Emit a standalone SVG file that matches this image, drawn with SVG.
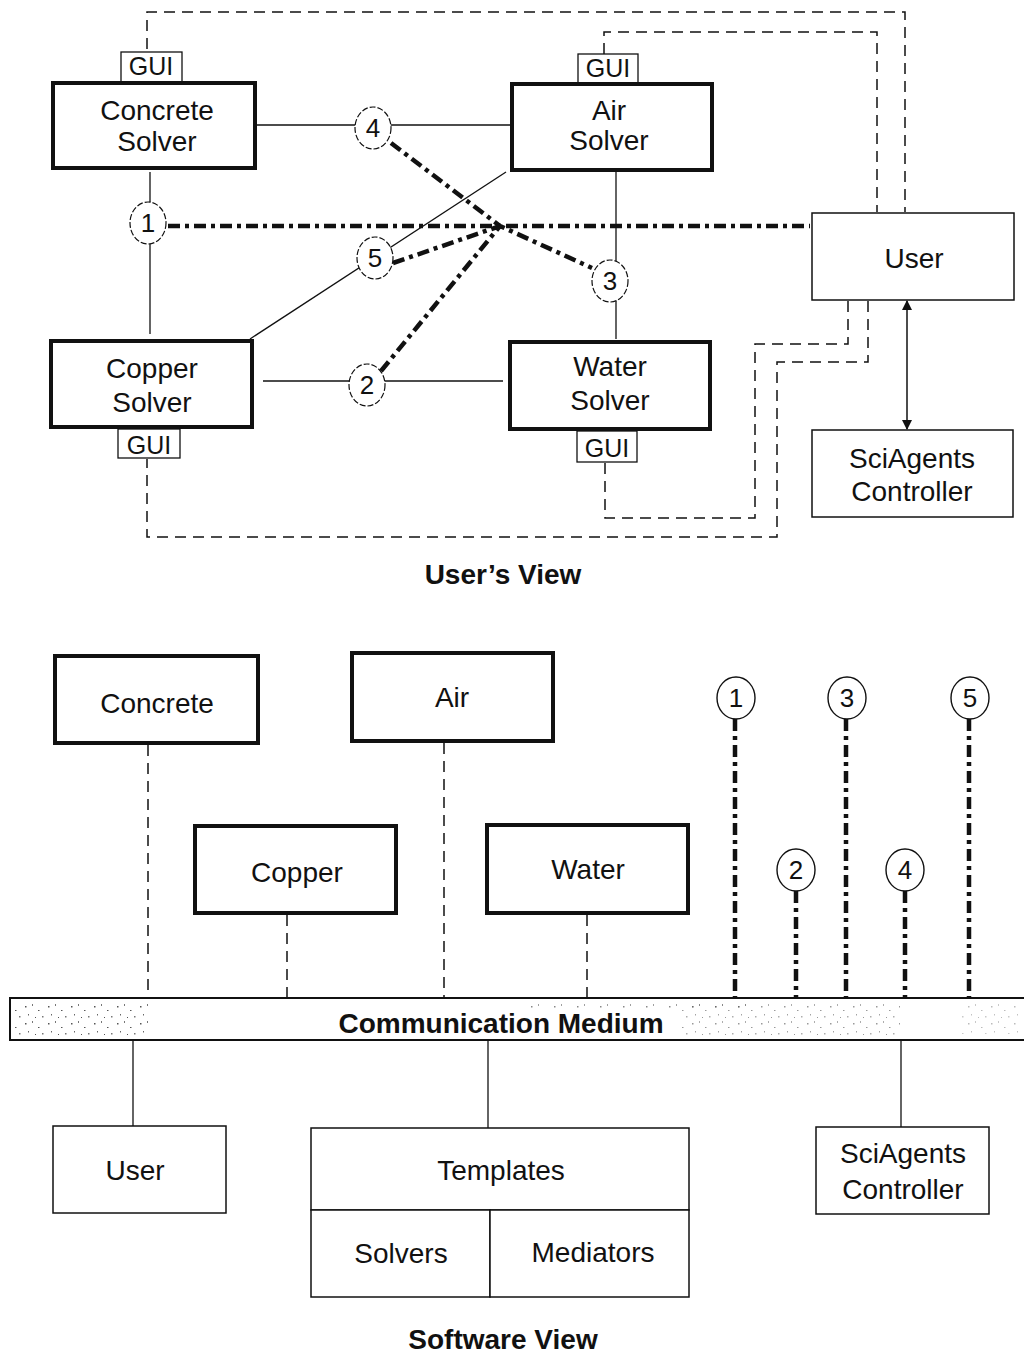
<svg xmlns="http://www.w3.org/2000/svg" width="1024" height="1354" viewBox="0 0 1024 1354">
<style>
text{font-family:"Liberation Sans",Arial,sans-serif;fill:#111;text-anchor:middle}
.lbl{font-size:28px}
.gui{font-size:25px}
.num{font-size:26px}
.title{font-size:28px;font-weight:bold}
.thick{fill:#fff;stroke:#111;stroke-width:4}
.thin{fill:#fff;stroke:#111;stroke-width:1.5}
.guibox{fill:#fff;stroke:#111;stroke-width:1.3}
.line{fill:none;stroke:#111;stroke-width:1.3}
.dash{fill:none;stroke:#111;stroke-width:1.5;stroke-dasharray:11 7}
.dd{fill:none;stroke:#111;stroke-width:4.5;stroke-dasharray:12 5 4 5}
.circ{fill:#fff;stroke:#111;stroke-width:1.2;stroke-dasharray:6 2}
.circb{fill:#fff;stroke:#111;stroke-width:1.4}
</style>
<defs>
<marker id="ah" viewBox="0 0 10 10" refX="9" refY="5" markerWidth="10" markerHeight="12" markerUnits="userSpaceOnUse" orient="auto-start-reverse">
<path d="M0,0 L10,5 L0,10 z" fill="#111"/>
</marker>
<pattern id="speck" width="23" height="17" patternUnits="userSpaceOnUse">
<rect x="2" y="3" width="1.5" height="1.5" fill="#555"/>
<rect x="9" y="1" width="1" height="2" fill="#777"/>
<rect x="15" y="7" width="1.5" height="1" fill="#555"/>
<rect x="5" y="11" width="1" height="1.5" fill="#666"/>
<rect x="19" y="13" width="1.5" height="1.5" fill="#777"/>
<rect x="12" y="14" width="1" height="1" fill="#555"/>
</pattern>
</defs>

<g id="connectors">
<line class="line" x1="255" y1="125" x2="511" y2="125"/>
<line class="line" x1="150" y1="172" x2="150" y2="334"/>
<line class="line" x1="616" y1="172" x2="616" y2="339"/>
<line class="line" x1="263" y1="381" x2="503" y2="381"/>
<line class="line" x1="506" y1="172" x2="250" y2="339" stroke-width="0.9"/>
<path class="dash" d="M147,49 V12 H905 V212"/>
<path class="dash" d="M604,54 V32 H877 V212"/>
<path class="dash" d="M848,301 V344 H755 V518 H605 V463"/>
<path class="dash" d="M868,301 V362 H777 V537 H147 V459"/>
<path class="dd" d="M168,226 H810"/>
<path class="dd" d="M391,143 L500,226 L592,268"/>
<path class="dd" d="M393,263 L500,226"/>
<path class="dd" d="M381,371 L500,226"/>
<line x1="907" y1="301" x2="907" y2="429" stroke="#111" stroke-width="1.5" marker-start="url(#ah)" marker-end="url(#ah)"/>
<line class="dash" x1="148" y1="745" x2="148" y2="998"/>
<line class="dash" x1="444" y1="743" x2="444" y2="998"/>
<line class="dash" x1="287" y1="915" x2="287" y2="998"/>
<line class="dash" x1="587" y1="915" x2="587" y2="998"/>
<line class="dd" x1="735" y1="719" x2="735" y2="998"/>
<line class="dd" x1="846" y1="719" x2="846" y2="998"/>
<line class="dd" x1="969" y1="719" x2="969" y2="998"/>
<line class="dd" x1="796" y1="891" x2="796" y2="998"/>
<line class="dd" x1="905" y1="891" x2="905" y2="998"/>
<line class="line" x1="133" y1="1041" x2="133" y2="1126"/>
<line class="line" x1="488" y1="1041" x2="488" y2="1128"/>
<line class="line" x1="901" y1="1041" x2="901" y2="1127"/>
</g>

<g id="concrete-solver">
<rect class="guibox" x="121" y="52" width="61" height="30"/>
<text class="gui" x="151" y="75">GUI</text>
<rect class="thick" x="53" y="83" width="202" height="85"/>
<text class="lbl" x="157" y="120">Concrete</text>
<text class="lbl" x="157" y="151">Solver</text>
</g>
<g id="air-solver">
<rect class="guibox" x="578" y="54" width="60" height="30"/>
<text class="gui" x="608" y="77">GUI</text>
<rect class="thick" x="512" y="84" width="200" height="86"/>
<text class="lbl" x="609" y="120">Air</text>
<text class="lbl" x="609" y="150">Solver</text>
</g>
<g id="copper-solver">
<rect class="thick" x="51" y="341" width="201" height="86"/>
<text class="lbl" x="152" y="378">Copper</text>
<text class="lbl" x="152" y="412">Solver</text>
<rect class="guibox" x="118" y="429" width="62" height="29"/>
<text class="gui" x="149" y="454">GUI</text>
</g>
<g id="water-solver">
<rect class="thick" x="510" y="342" width="200" height="87"/>
<text class="lbl" x="610" y="376">Water</text>
<text class="lbl" x="610" y="410">Solver</text>
<rect class="guibox" x="577" y="431" width="60" height="31"/>
<text class="gui" x="607" y="457">GUI</text>
</g>
<g id="user-top">
<rect class="thin" x="812" y="213" width="202" height="87"/>
<text class="lbl" x="914" y="268">User</text>
</g>
<g id="controller-top">
<rect class="thin" x="812" y="430" width="201" height="87"/>
<text class="lbl" x="912" y="468">SciAgents</text>
<text class="lbl" x="912" y="501">Controller</text>
</g>

<g id="top-circles">
<ellipse class="circ" cx="148" cy="223" rx="18" ry="21"/><text class="num" x="148" y="232">1</text>
<ellipse class="circ" cx="373" cy="128" rx="18" ry="21"/><text class="num" x="373" y="137">4</text>
<ellipse class="circ" cx="375" cy="258" rx="18" ry="21"/><text class="num" x="375" y="267">5</text>
<ellipse class="circ" cx="610" cy="281" rx="18" ry="21"/><text class="num" x="610" y="290">3</text>
<ellipse class="circ" cx="367" cy="385" rx="18" ry="21"/><text class="num" x="367" y="394">2</text>
</g>

<text class="title" x="503" y="584">User’s View</text>

<g id="concrete">
<rect class="thick" x="55" y="656" width="203" height="87"/>
<text class="lbl" x="157" y="713">Concrete</text>
</g>
<g id="air">
<rect class="thick" x="352" y="653" width="201" height="88"/>
<text class="lbl" x="452" y="707">Air</text>
</g>
<g id="copper">
<rect class="thick" x="195" y="826" width="201" height="87"/>
<text class="lbl" x="297" y="882">Copper</text>
</g>
<g id="water">
<rect class="thick" x="487" y="825" width="201" height="88"/>
<text class="lbl" x="588" y="879">Water</text>
</g>

<g id="bottom-circles">
<ellipse class="circb" cx="736" cy="698" rx="19" ry="21"/><text class="num" x="736" y="707">1</text>
<ellipse class="circb" cx="847" cy="698" rx="19" ry="21"/><text class="num" x="847" y="707">3</text>
<ellipse class="circb" cx="970" cy="698" rx="19" ry="21"/><text class="num" x="970" y="707">5</text>
<ellipse class="circb" cx="796" cy="870" rx="19" ry="21"/><text class="num" x="796" y="879">2</text>
<ellipse class="circb" cx="905" cy="870" rx="19" ry="21"/><text class="num" x="905" y="879">4</text>
</g>

<g id="communication-medium">
<rect x="10" y="998" width="1020" height="42" fill="#fff"/>
<rect x="14" y="1002" width="135" height="34" fill="url(#speck)"/>
<rect x="530" y="1001" width="230" height="8" fill="url(#speck)" opacity="0.7"/>
<rect x="680" y="1003" width="220" height="32" fill="url(#speck)" opacity="0.6"/>
<rect x="960" y="1004" width="60" height="30" fill="url(#speck)" opacity="0.4"/>
<path d="M1024,998 H10 V1040 H1024" fill="none" stroke="#111" stroke-width="2"/>
<text x="501" y="1033" style="font-size:28px;font-weight:bold">Communication Medium</text>
</g>

<g id="user">
<rect class="thin" x="53" y="1126" width="173" height="87"/>
<text class="lbl" x="135" y="1180">User</text>
</g>
<g id="templates">
<rect class="thin" x="311" y="1128" width="378" height="82"/>
<text class="lbl" x="501" y="1180">Templates</text>
</g>
<g id="solvers">
<rect class="thin" x="311" y="1210" width="179" height="87"/>
<text class="lbl" x="401" y="1263">Solvers</text>
</g>
<g id="mediators">
<rect class="thin" x="490" y="1210" width="199" height="87"/>
<text class="lbl" x="593" y="1262">Mediators</text>
</g>
<g id="controller">
<rect class="thin" x="816" y="1127" width="173" height="87"/>
<text class="lbl" x="903" y="1163">SciAgents</text>
<text class="lbl" x="903" y="1199">Controller</text>
</g>

<text class="title" x="503" y="1349">Software View</text>
</svg>
